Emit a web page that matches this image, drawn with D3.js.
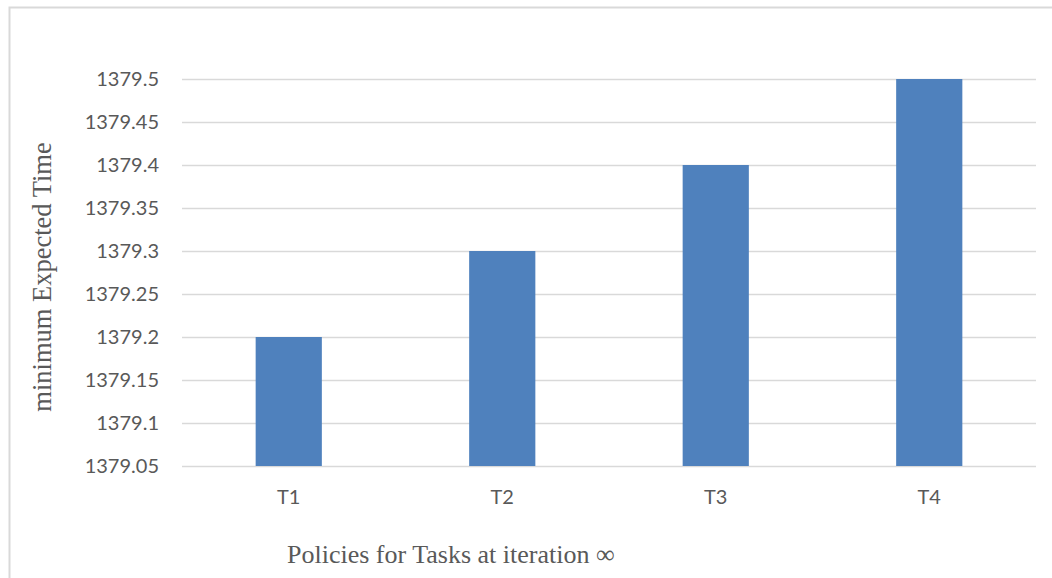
<!DOCTYPE html>
<html>
<head>
<meta charset="utf-8">
<script src="https://cdn.jsdelivr.net/npm/d3@7"></script>
<style>
  body { margin: 0; background: #fff; }
  svg { display: block; }
</style>
</head>
<body>
<div id="chart"></div>
<script>
// chart data
const categories = ["T1", "T2", "T3", "T4"];
const values = [1379.2, 1379.3, 1379.4, 1379.5];
const yTicks = [1379.05, 1379.1, 1379.15, 1379.2, 1379.25, 1379.3, 1379.35, 1379.4, 1379.45, 1379.5];
const yTitle = "minimum Expected Time";
const xTitle = "Policies for Tasks at iteration \u221E";

const width = 1052, height = 578;
const margin = {top: 79, right: 16, bottom: 112, left: 182};

const svg = d3.select("#chart").append("svg")
    .attr("width", width)
    .attr("height", height);

// outer frame (runs off right and bottom like the original)
svg.append("rect")
    .attr("x", 9.5).attr("y", 7.5)
    .attr("width", width + 20).attr("height", height + 20)
    .attr("fill", "none")
    .attr("stroke", "#d9d9d9")
    .attr("stroke-width", 2);

let x = d3.scaleBand()
    .domain(categories)
    .range([margin.left, width - margin.right])
    .paddingInner(0.69)
    .paddingOuter(0.345);

let y = d3.scaleLinear()
    .domain([1379.05, 1379.5])
    .range([height - margin.bottom, margin.top]);

// gridlines
svg.append("g").selectAll("line")
    .data(yTicks)
    .enter()
    .append("line")
    .attr("x1", margin.left)
    .attr("x2", width - margin.right)
    .attr("y1", function(d) { return Math.round(y(d)) + 0.5; })
    .attr("y2", function(d) { return Math.round(y(d)) + 0.5; })
    .attr("stroke", "#d9d9d9")
    .attr("stroke-width", 1.5);

// bars
svg.append("g").selectAll("rect")
    .data(values)
    .enter()
    .append("rect")
    .attr("x", function(d, i) { return x(categories[i]); })
    .attr("width", x.bandwidth())
    .attr("y", function(d) { return y(d); })
    .attr("height", function(d) { return y(1379.05) - y(d); })
    .attr("fill", "#4f81bd");

// y axis labels
let yAxis = d3.axisLeft(y)
    .tickValues(yTicks)
    .tickSize(0)
    .tickPadding(23)
    .tickFormat(function(d) { return String(+d.toFixed(2)); });
let gy = svg.append("g")
    .attr("transform", "translate(" + margin.left + ",0)")
    .call(yAxis);
gy.select(".domain").remove();
gy.selectAll("text")
    .attr("fill", "#595959")
    .style("font-family", "Lato, 'Open Sans', sans-serif")
    .style("font-size", "20px");

// x axis labels
let xAxis = d3.axisBottom(x).tickSize(0).tickPadding(24);
let gx = svg.append("g")
    .attr("transform", "translate(0," + (height - margin.bottom) + ")")
    .call(xAxis);
gx.select(".domain").remove();
gx.selectAll("text")
    .attr("fill", "#595959")
    .style("font-family", "Lato, 'Open Sans', sans-serif")
    .style("font-size", "20px");

// axis titles
svg.append("text")
    .attr("transform", "translate(51,277) rotate(-90)")
    .attr("text-anchor", "middle")
    .attr("fill", "#595959")
    .style("font-family", "'Liberation Serif', 'DejaVu Serif', serif")
    .style("font-size", "26.5px")
    .text(yTitle);

svg.append("text")
    .attr("x", 287)
    .attr("y", 563)
    .attr("fill", "#595959")
    .style("font-family", "'Liberation Serif', 'DejaVu Serif', serif")
    .style("font-size", "26px")
    .text(xTitle);
</script>
</body>
</html>
